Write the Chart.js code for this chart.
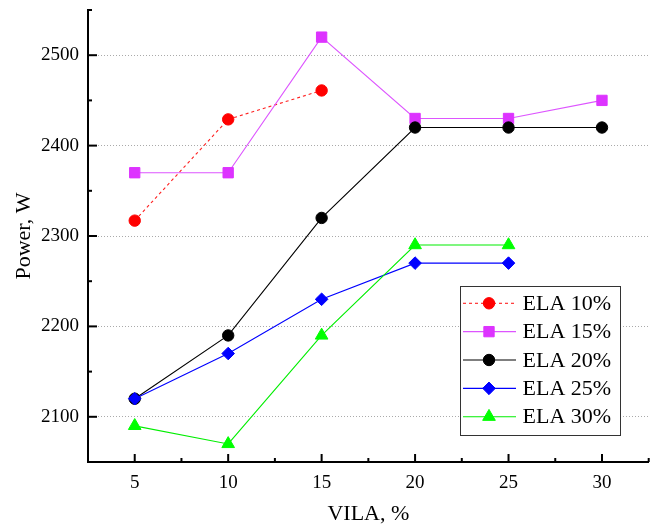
<!DOCTYPE html>
<html>
<head>
<meta charset="utf-8">
<script src="https://cdn.jsdelivr.net/npm/chart.js@4/dist/chart.umd.min.js"></script>
<style>
  html, body { margin: 0; padding: 0; background: #fff; }
  #wrap { width: 657px; height: 528px; }
</style>
</head>
<body>
<div id="wrap"><canvas id="c" width="657" height="528"></canvas></div>
<script>
const vila = [5, 10, 15, 20, 25, 30];
const seriesNames = ['ELA 10%', 'ELA 15%', 'ELA 20%', 'ELA 25%', 'ELA 30%'];
const ela10 = [2317, 2429, 2461, null, null, null];
const ela15 = [2370, 2370, 2520, 2430, 2430, 2450];
const ela20 = [2120, 2190, 2320, 2420, 2420, 2420];
const ela25 = [2120, 2170, 2230, 2270, 2270, null];
const ela30 = [2090, 2070, 2190, 2290, 2290, null];
const yTickLabels = [2100, 2200, 2300, 2400, 2500];
const xTickLabels = [5, 10, 15, 20, 25, 30];

const FONT = "'Liberation Serif', 'Times New Roman', serif";

const styles = [
  { line: '#ff2020', fill: '#ff0000', shape: 'circle', r: 5.7, dash: [3, 3] },
  { line: '#dd55ff', fill: '#dd33ff', shape: 'rect', r: 7.3, dash: [] },
  { line: '#000000', fill: '#000000', shape: 'circle', r: 5.7, dash: [] },
  { line: '#0000ff', fill: '#0000ff', shape: 'rectRot', r: 6.3, dash: [] },
  { line: '#00ee00', fill: '#00ff00', shape: 'triangle', r: 7.3, dash: [] }
];
const allSeries = [ela10, ela15, ela20, ela25, ela30];

function toPoints(arr) {
  const pts = [];
  arr.forEach((v, i) => { if (v !== null) pts.push({ x: vila[i], y: v }); });
  return pts;
}

const datasets = allSeries.map((s, i) => ({
  label: seriesNames[i],
  data: toPoints(s),
  borderColor: styles[i].line,
  backgroundColor: styles[i].fill,
  pointBackgroundColor: styles[i].fill,
  pointBorderColor: styles[i].fill,
  pointBorderWidth: 1,
  pointStyle: styles[i].shape,
  pointRadius: styles[i].r,
  borderWidth: 1.1,
  borderDash: styles[i].dash,
  tension: 0,
  order: allSeries.length - i
}));

function drawMarker(ctx, shape, r, x, y) {
  ctx.beginPath();
  if (shape === 'circle') {
    ctx.arc(x, y, r, 0, Math.PI * 2);
  } else if (shape === 'rect') {
    const s = Math.SQRT1_2 * r;
    ctx.rect(x - s, y - s, 2 * s, 2 * s);
  } else if (shape === 'rectRot') {
    ctx.moveTo(x, y - r); ctx.lineTo(x + r, y); ctx.lineTo(x, y + r); ctx.lineTo(x - r, y);
  } else if (shape === 'triangle') {
    for (let k = 0; k < 3; k++) {
      const a = k * 2 * Math.PI / 3;
      const px = x + Math.sin(a) * r, py = y - Math.cos(a) * r;
      if (k === 0) ctx.moveTo(px, py); else ctx.lineTo(px, py);
    }
  }
  ctx.closePath();
  ctx.fill();
  ctx.stroke();
}

const axisTicksPlugin = {
  id: 'axisTicks',
  afterDraw(chart) {
    const ctx = chart.ctx;
    const xs = chart.scales.x, ys = chart.scales.y;
    const area = chart.chartArea;
    ctx.save();
    ctx.strokeStyle = '#000';
    ctx.lineWidth = 2;
    ys.ticks.forEach(t => {
      const py = ys.getPixelForValue(t.value);
      const len = (t.value % 100 === 0) ? 9 : 4;
      ctx.beginPath();
      ctx.moveTo(area.left, py);
      ctx.lineTo(area.left + len, py);
      ctx.stroke();
    });
    xs.ticks.forEach(t => {
      const px = xs.getPixelForValue(t.value);
      const len = (t.value % 5 === 0) ? 8 : 4;
      ctx.beginPath();
      ctx.moveTo(px, area.bottom);
      ctx.lineTo(px, area.bottom - len);
      ctx.stroke();
    });
    ctx.restore();
  }
};

const legendPlugin = {
  id: 'boxLegend',
  afterDraw(chart) {
    const ctx = chart.ctx;
    const bx = 460, by = 286, bw = 160, bh = 149;
    ctx.save();
    ctx.fillStyle = '#fff';
    ctx.fillRect(bx, by, bw, bh);
    ctx.strokeStyle = '#333';
    ctx.lineWidth = 1;
    ctx.strokeRect(bx + 0.5, by + 0.5, bw, bh);
    ctx.font = '22px ' + FONT;
    ctx.textBaseline = 'middle';
    ctx.textAlign = 'left';
    seriesNames.forEach((name, i) => {
      const y = 303.3 + i * 28.35;
      const st = styles[i];
      ctx.strokeStyle = st.line;
      ctx.lineWidth = 1.1;
      ctx.setLineDash(st.dash);
      ctx.beginPath();
      ctx.moveTo(463, y);
      ctx.lineTo(516, y);
      ctx.stroke();
      ctx.setLineDash([]);
      ctx.fillStyle = st.fill;
      ctx.strokeStyle = st.fill;
      ctx.lineWidth = 1;
      drawMarker(ctx, st.shape, st.r, 489, y);
      ctx.fillStyle = '#000';
      ctx.fillText(name, 522.5, y + 1);
    });
    ctx.restore();
  }
};

new Chart(document.getElementById('c'), {
  type: 'line',
  data: { datasets },
  options: {
    responsive: false,
    animation: false,
    events: [],
    layout: { padding: { top: 10, right: 8, left: 0, bottom: 0 } },
    plugins: { legend: { display: false }, tooltip: { enabled: false } },
    scales: {
      x: {
        type: 'linear',
        min: 2.5,
        max: 32.5,
        afterFit(s) { s.height = 66; s.paddingLeft = 0; s.paddingRight = 0; },
        ticks: {
          stepSize: 2.5,
          autoSkip: false,
          maxRotation: 0,
          padding: 10,
          color: '#000',
          font: { family: FONT, size: 19 },
          callback: v => (xTickLabels.includes(v) ? String(v) : '')
        },
        grid: { drawOnChartArea: false, drawTicks: false },
        border: { display: true, color: '#000', width: 2 },
        title: {
          display: true,
          text: 'VILA, %',
          color: '#000',
          font: { family: FONT, size: 22 },
          padding: { top: 0, bottom: 1 }
        }
      },
      y: {
        type: 'linear',
        min: 2050,
        max: 2550,
        afterFit(s) { s.width = 88; s.paddingTop = 0; s.paddingBottom = 0; },
        ticks: {
          stepSize: 50,
          autoSkip: false,
          padding: 9,
          color: '#000',
          font: { family: FONT, size: 19 },
          callback: v => (yTickLabels.includes(v) ? String(v) : '')
        },
        grid: {
          drawTicks: false,
          lineWidth: 1,
          color: c => (c.tick && yTickLabels.includes(c.tick.value) ? '#aaaaaa' : 'rgba(0,0,0,0)')
        },
        border: { display: true, color: '#000', width: 2, dash: [1, 2] },
        title: {
          display: true,
          text: 'Power, W',
          color: '#000',
          font: { family: FONT, size: 22 },
          padding: { top: 11, bottom: 0 }
        }
      }
    }
  },
  plugins: [axisTicksPlugin, legendPlugin]
});
</script>
</body>
</html>
